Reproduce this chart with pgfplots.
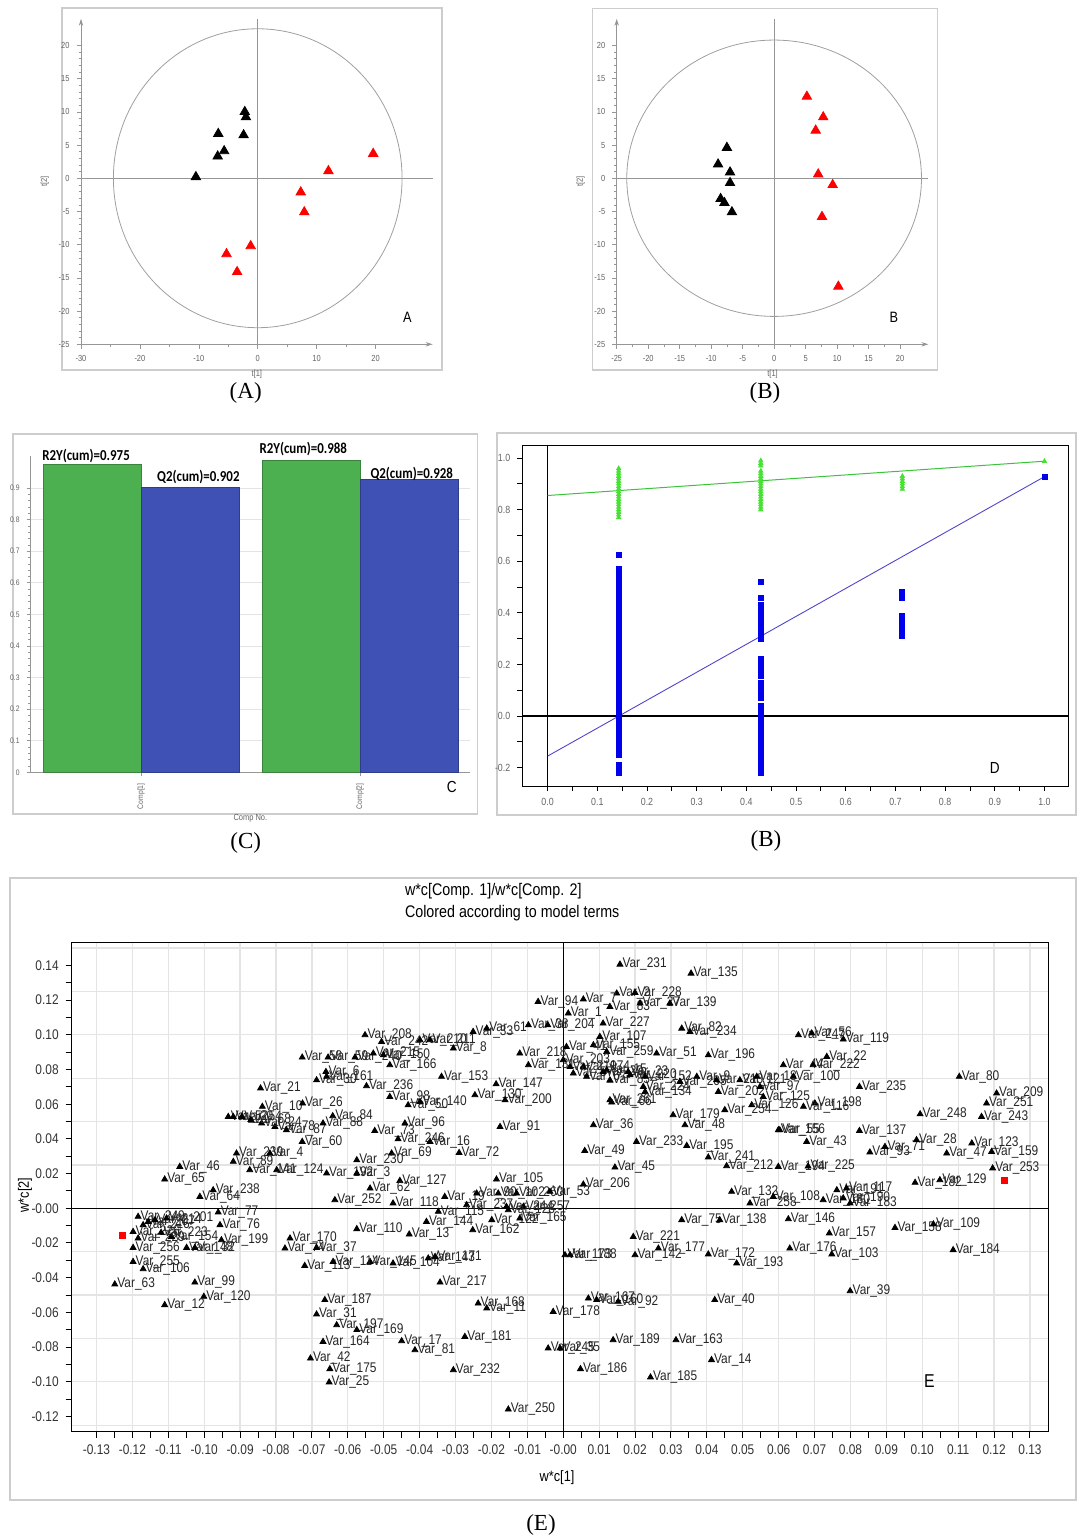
\documentclass[border=0pt]{standalone}
\usepackage{fontspec}
\setmainfont{Liberation Serif}
\newfontfamily\cf{Liberation Sans}[FakeStretch=0.85]
\newfontfamily\cb{Carlito}[FakeStretch=0.85]
\usepackage{pgfplots}
\pgfplotsset{compat=1.18}
\usetikzlibrary{arrows.meta}
\definecolor{frameg}{RGB}{205,205,205}
\definecolor{axg}{RGB}{150,150,150}
\definecolor{txg}{RGB}{100,100,100}
\definecolor{cgreen}{RGB}{76,175,80}
\definecolor{cblue}{RGB}{63,81,181}
\definecolor{dgreen}{RGB}{70,225,50}
\definecolor{dgline}{RGB}{60,195,60}
\definecolor{dblue}{RGB}{0,0,235}
\definecolor{dbline}{RGB}{80,70,200}
\definecolor{gridg}{RGB}{228,228,228}
\pgfplotsset{/pgf/number format/assume math mode=true}
\begin{document}
\begin{tikzpicture}
\path[use as bounding box] (0,0) rectangle (539.5pt,-769pt);
% panel frames
\draw[frameg, line width=0.8pt] (30.85pt,-3.85pt) rectangle (220.85pt,-185pt);
\draw[frameg, line width=0.8pt] (296.15pt,-4.15pt) rectangle (468.65pt,-185pt);
\draw[frameg, line width=0.8pt] (6.35pt,-217pt) rectangle (238.65pt,-407pt);
\draw[frameg, line width=0.8pt] (248.5pt,-216.5pt) rectangle (538pt,-407.5pt);
\draw[frameg, line width=0.8pt] (5pt,-439pt) rectangle (538pt,-750pt);
% captions
\node[font=\fontsize{11.5}{13}\selectfont] at (122.85pt,-196.5pt) {(A)};
\node[font=\fontsize{11.5}{13}\selectfont] at (382.5pt,-196.5pt) {(B)};
\node[font=\fontsize{11.5}{13}\selectfont] at (122.85pt,-421.5pt) {(C)};
\node[font=\fontsize{11.5}{13}\selectfont] at (383pt,-420.5pt) {(B)};
\node[font=\fontsize{11.5}{13}\selectfont] at (270.5pt,-762.5pt) {(E)};

%================ Panel A
\begin{axis}[
  at={(40.5pt,-9.4pt)}, anchor=north west, scale only axis,
  width=175.85pt, height=162.75pt,
  xmin=-30, xmax=29.7, ymin=-25, ymax=24,
  axis lines=left,
  axis line style={axg, line width=0.4pt, -{Stealth[length=3.5pt,width=2.2pt]}},
  xtick={-30,-20,-10,0,10,20}, ytick={-25,-20,-15,-10,-5,0,5,10,15,20},
  minor x tick num=1, minor y tick num=4,
  tick style={axg, line width=0.3pt}, tick align=outside,
  major tick length=2.2pt, minor tick length=1.2pt,
  ticklabel style={font=\cf\fontsize{4.4}{5}\selectfont, text=txg},
  xlabel={t[1]}, ylabel={t[2]},
  label style={font=\cf\fontsize{4.4}{5}\selectfont, text=txg},
  xlabel style={yshift=3pt}, ylabel style={yshift=-2pt},
  clip=false,
]
\addplot[axg, line width=0.4pt] coordinates {(-30,0) (29.7,0)};
\addplot[axg, line width=0.4pt] coordinates {(0,-25) (0,24)};
\draw[gray!75, line width=0.4pt] (axis cs:0,0) ellipse [x radius=24.5, y radius=22.5];
\addplot[only marks, mark=triangle*, mark size=2.7pt, black] coordinates {
(-10.5,0.2) (-6.7,6.7) (-5.7,4.1) (-6.8,3.3) (-2.4,6.5) (-2.2,10.0) (-2.0,9.2)};
\addplot[only marks, mark=triangle*, mark size=2.7pt, red] coordinates {
(19.6,3.7) (12.0,1.1) (7.3,-2.1) (7.9,-5.1) (-1.2,-10.2) (-5.3,-11.4) (-3.5,-14.1)};
\node[font=\cf\fontsize{7.5}{8}\selectfont] at (axis cs:25.4,-20.9) {A};
\end{axis}

%================ Panel B
\begin{axis}[
  at={(308.35pt,-9.4pt)}, anchor=north west, scale only axis,
  width=155.85pt, height=162.75pt,
  xmin=-25, xmax=24.5, ymin=-25, ymax=24,
  axis lines=left,
  axis line style={axg, line width=0.4pt, -{Stealth[length=3.5pt,width=2.2pt]}},
  xtick={-25,-20,-15,-10,-5,0,5,10,15,20}, ytick={-25,-20,-15,-10,-5,0,5,10,15,20},
  minor x tick num=1, minor y tick num=4,
  tick style={axg, line width=0.3pt}, tick align=outside,
  major tick length=2.2pt, minor tick length=1.2pt,
  ticklabel style={font=\cf\fontsize{4.4}{5}\selectfont, text=txg},
  xlabel={t[1]}, ylabel={t[2]},
  label style={font=\cf\fontsize{4.4}{5}\selectfont, text=txg},
  xlabel style={yshift=3pt}, ylabel style={yshift=-2pt},
  clip=false,
]
\addplot[axg, line width=0.4pt] coordinates {(-25,0) (24.5,0)};
\addplot[axg, line width=0.4pt] coordinates {(0,-25) (0,24)};
\draw[gray!75, line width=0.4pt] (axis cs:0,0) ellipse [x radius=23.4, y radius=20.8];
\addplot[only marks, mark=triangle*, mark size=2.7pt, black] coordinates {
(-7.5,4.6) (-8.9,2.1) (-7.0,0.9) (-7.0,-0.7) (-8.5,-3.1) (-7.9,-3.7) (-6.7,-5.1)};
\addplot[only marks, mark=triangle*, mark size=2.7pt, red] coordinates {
(5.2,12.3) (7.8,9.2) (6.6,7.2) (7.0,0.6) (9.3,-1.0) (7.6,-5.8) (10.2,-16.3)};
\node[font=\cf\fontsize{7.5}{8}\selectfont] at (axis cs:19.0,-21.0) {B};
\end{axis}

%================ Panel C
\begin{axis}[
  at={(15.35pt,-228.2pt)}, anchor=north west, scale only axis,
  width=219.65pt, height=157.95pt,
  xmin=0.496, xmax=2.502, ymin=0, ymax=1,
  axis x line=bottom, axis y line=left,
  axis line style={axg, line width=0.4pt, -},
  ytick={0,0.1,0.2,0.3,0.4,0.5,0.6,0.7,0.8,0.9},
  yticklabels={0,0.1,0.2,0.3,0.4,0.5,0.6,0.7,0.8,0.9},
  minor y tick num=4,
  xtick={1,2}, xticklabels={Comp[1],Comp[2]},
  xticklabel style={rotate=90, anchor=east},
  ymajorgrids, grid style={gridg, line width=0.4pt},
  tick style={axg, line width=0.3pt}, tick align=outside,
  major tick length=2pt, minor tick length=1.2pt,
  ticklabel style={font=\cf\fontsize{4}{5}\selectfont, text=txg},
  xlabel={Comp No.},
  xlabel style={font=\cf\fontsize{4.4}{5}\selectfont, text=txg, yshift=4pt},
  clip=false,
]
\addplot[ybar, bar width=0.4475, bar shift=0pt, fill=cgreen, draw=cgreen!75!black, line width=0.3pt]
  coordinates {(0.776,0.975) (1.776,0.988)};
\addplot[ybar, bar width=0.4475, bar shift=0pt, fill=cblue, draw=cblue!75!black, line width=0.3pt]
  coordinates {(1.224,0.902) (2.224,0.928)};
\node[anchor=base west, inner sep=0pt, font=\cb\bfseries\fontsize{7.6}{8}\selectfont] at (axis cs:0.547,0.9855) {R2Y(cum)=0.975};
\node[anchor=base west, inner sep=0pt, font=\cb\bfseries\fontsize{7.6}{8}\selectfont] at (axis cs:1.0717,0.9205) {Q2(cum)=0.902};
\node[anchor=base west, inner sep=0pt, font=\cb\bfseries\fontsize{7.6}{8}\selectfont] at (axis cs:1.539,1.0108) {R2Y(cum)=0.988};
\node[anchor=base west, inner sep=0pt, font=\cb\bfseries\fontsize{7.6}{8}\selectfont] at (axis cs:2.046,0.9316) {Q2(cum)=0.928};
\node[font=\cf\fontsize{8}{9}\selectfont] at (axis cs:2.419,-0.047) {C};
\end{axis}

%================ Panel D (labelled (B))
\begin{axis}[
  at={(261.15pt,-222.85pt)}, anchor=north west, scale only axis,
  width=273.25pt, height=170.15pt,
  xmin=-0.051, xmax=1.049, ymin=-0.271, ymax=1.048,
  axis line style={black, line width=0.4pt},
  xtick={0,0.1,0.2,0.3,0.4,0.5,0.6,0.7,0.8,0.9,1},
  xticklabels={0.0,0.1,0.2,0.3,0.4,0.5,0.6,0.7,0.8,0.9,1.0},
  ytick={-0.2,0,0.2,0.4,0.6,0.8,1},
  yticklabels={-0.2,0.0,0.2,0.4,0.6,0.8,1.0},
  minor x tick num=1, minor y tick num=1,
  xtick pos=left, ytick pos=left, tick align=outside,
  tick style={black, line width=0.4pt},
  major tick length=2.5pt, minor tick length=2.5pt,
  ticklabel style={font=\cf\fontsize{5.2}{6}\selectfont, text=txg},
  clip=false,
]
\addplot[black, line width=0.7pt] coordinates {(0,-0.271) (0,1.048)};
\addplot[black, line width=0.7pt] coordinates {(-0.051,0) (1.049,0)};
\addplot[dgline, line width=0.5pt] coordinates {(0,0.855) (1,0.988)};
\addplot[dbline, line width=0.45pt] coordinates {(0,-0.155) (1,0.928)};
\addplot[only marks, mark=triangle*, mark size=1.2pt, dgreen] coordinates {
(0.143,0.77) (0.143,0.78) (0.143,0.79) (0.143,0.80) (0.143,0.81) (0.143,0.82) (0.143,0.83)
(0.143,0.84) (0.143,0.85) (0.143,0.86) (0.143,0.87) (0.143,0.88) (0.143,0.89) (0.143,0.90)
(0.143,0.91) (0.143,0.92) (0.143,0.93) (0.143,0.94) (0.143,0.95) (0.143,0.96)
(0.429,0.80) (0.429,0.81) (0.429,0.82) (0.429,0.83) (0.429,0.84) (0.429,0.85) (0.429,0.86)
(0.429,0.87) (0.429,0.88) (0.429,0.89) (0.429,0.90) (0.429,0.91) (0.429,0.92) (0.429,0.93)
(0.429,0.94) (0.429,0.95) (0.429,0.97) (0.429,0.98) (0.429,0.99)
(0.714,0.88) (0.714,0.89) (0.714,0.90) (0.714,0.91) (0.714,0.92) (0.714,0.93)
(1,0.988)};
\addplot[only marks, mark=square*, mark size=1.25pt, dblue] coordinates {
(0.143,-0.22) (0.143,-0.20) (0.143,-0.19) (0.143,-0.15) (0.143,-0.13) (0.143,-0.11) (0.143,-0.09)
(0.143,-0.07) (0.143,-0.05) (0.143,-0.03) (0.143,-0.01) (0.143,0.01) (0.143,0.03) (0.143,0.05)
(0.143,0.07) (0.143,0.09) (0.143,0.11) (0.143,0.13) (0.143,0.15) (0.143,0.17) (0.143,0.19)
(0.143,0.21) (0.143,0.23) (0.143,0.25) (0.143,0.27) (0.143,0.29) (0.143,0.31) (0.143,0.33)
(0.143,0.35) (0.143,0.37) (0.143,0.39) (0.143,0.41) (0.143,0.43) (0.143,0.45) (0.143,0.47)
(0.143,0.49) (0.143,0.51) (0.143,0.53) (0.143,0.55) (0.143,0.57) (0.143,0.625)
(0.429,0.52) (0.429,0.46) (0.429,0.43) (0.429,0.41) (0.429,0.39) (0.429,0.37) (0.429,0.35)
(0.429,0.33) (0.429,0.31) (0.429,0.30) (0.429,0.22) (0.429,0.20) (0.429,0.18) (0.429,0.155)
(0.429,0.13) (0.429,0.11) (0.429,0.095) (0.429,0.07) (0.429,0.04) (0.429,0.02) (0.429,0.00)
(0.429,-0.02) (0.429,-0.04) (0.429,-0.06) (0.429,-0.08) (0.429,-0.10) (0.429,-0.12)
(0.429,-0.14) (0.429,-0.16) (0.429,-0.18) (0.429,-0.20) (0.429,-0.22)
(0.714,0.48) (0.714,0.46) (0.714,0.39) (0.714,0.37) (0.714,0.35) (0.714,0.33) (0.714,0.31)
(1,0.928)};
\node[font=\cf\fontsize{8}{9}\selectfont] at (axis cs:0.9,-0.2) {D};
\end{axis}

%================ Panel E
\begin{axis}[
  at={(35.85pt,-471.35pt)}, anchor=north west, scale only axis,
  width=488.3pt, height=244.5pt,
  xmin=-0.1369, xmax=0.1351, ymin=-0.1288, ymax=0.1531,
  axis line style={black, line width=0.7pt},
  xtick={-0.13,-0.12,-0.11,-0.10,-0.09,-0.08,-0.07,-0.06,-0.05,-0.04,-0.03,-0.02,-0.01,0,0.01,0.02,0.03,0.04,0.05,0.06,0.07,0.08,0.09,0.10,0.11,0.12,0.13},
  xticklabels={-0.13,-0.12,-0.11,-0.10,-0.09,-0.08,-0.07,-0.06,-0.05,-0.04,-0.03,-0.02,-0.01,-0.00,0.01,0.02,0.03,0.04,0.05,0.06,0.07,0.08,0.09,0.10,0.11,0.12,0.13},
  ytick={-0.12,-0.10,-0.08,-0.06,-0.04,-0.02,0,0.02,0.04,0.06,0.08,0.10,0.12,0.14},
  yticklabels={-0.12,-0.10,-0.08,-0.06,-0.04,-0.02,-0.00,0.02,0.04,0.06,0.08,0.10,0.12,0.14},
  minor x tick num=1, minor y tick num=1,
  xmajorgrids, grid style={gridg, line width=0.6pt},
  extra y ticks={-0.125,-0.1,-0.075,-0.05,-0.025,0,0.025,0.05,0.075,0.1,0.125,0.15},
  extra y tick labels={},
  extra y tick style={grid=major, major tick length=0pt},
  xtick pos=left, ytick pos=left, tick align=outside,
  tick style={black, line width=0.5pt},
  major tick length=3pt, minor tick length=3pt,
  ticklabel style={font=\cf\fontsize{7}{8}\selectfont, text=black!80},
  xlabel={w*c[1]}, ylabel={w*c[2]},
  xlabel style={at={(axis description cs:0.497,-0.0947)}, anchor=center, font=\cf\fontsize{7.5}{8}\selectfont},
  ylabel style={at={(axis description cs:-0.0478,0.484)}, anchor=center, font=\cf\fontsize{7.5}{8}\selectfont},
  title={w*c[Comp. 1]/w*c[Comp. 2]\\Colored according to model terms},
  title style={at={(axis description cs:0.3341,1.0587)}, anchor=west, align=left, font=\cf\fontsize{8.4}{11}\selectfont},
  clip=false,
]
\addplot[black, line width=0.7pt] coordinates {(0,-0.1288) (0,0.1531)};
\addplot[black, line width=0.7pt] coordinates {(-0.1369,0) (0.1351,0)};
\addplot[only marks, mark=triangle*, mark size=1.7pt, black,
  nodes near coords={Var\_\pgfplotspointmeta},
  point meta=explicit symbolic,
  nodes near coords style={anchor=west, xshift=0.6pt, inner sep=0.5pt, font=\cf\fontsize{7}{7}\selectfont, text=black!85}]
table[meta=n] {
x y n
-0.0843 0.0692 21
-0.0727 0.0870 58
-0.0838 0.0586 10
-0.0726 0.0605 26
-0.0687 0.0739 30
-0.0661 0.0787 6
-0.0933 0.0528 52
-0.0919 0.0528 20
-0.0840 0.0490 24
-0.0803 0.0470 78
-0.0771 0.0451 87
-0.0727 0.0384 60
-0.0910 0.0317 239
-0.0817 0.0317 4
-0.0919 0.0269 89
-0.0873 0.0221 141
-0.0798 0.0221 124
-0.1068 0.0240 46
-0.1110 0.0167 65
-0.0975 0.0105 238
-0.1012 0.0067 64
-0.0659 0.0202 192
-0.0575 0.0202 3
-0.0895 0.0528 54
-0.0870 0.0510 68
-0.0552 0.0999 208
-0.0506 0.0960 242
-0.0399 0.0970 210
-0.0371 0.0970 211
-0.0306 0.0922 8
-0.0251 0.1018 33
-0.0213 0.1037 61
-0.0097 0.1056 38
-0.0070 0.1191 94
-0.0655 0.0870 59
-0.0580 0.0870 240
-0.0529 0.0893 215
-0.0501 0.0883 150
-0.0483 0.0826 166
-0.0659 0.0759 161
-0.0548 0.0705 236
-0.0483 0.0643 98
-0.0432 0.0595 50
-0.0399 0.0614 140
-0.0339 0.0759 153
-0.0246 0.0653 130
-0.0187 0.0716 147
-0.0162 0.0624 200
-0.0121 0.0893 218
-0.0097 0.0826 131
-0.0642 0.0532 84
-0.0669 0.0490 88
-0.0176 0.0470 91
-0.0525 0.0447 73
-0.0441 0.0490 96
-0.0460 0.0399 246
-0.0371 0.0384 16
-0.0290 0.0320 72
-0.0478 0.0317 69
-0.0575 0.0278 230
-0.0455 0.0159 127
-0.0538 0.0115 62
-0.0186 0.0167 105
-0.0636 0.0048 252
-0.0474 0.0029 118
-0.0330 0.0067 19
-0.0241 0.0086 90
-0.0181 0.0086 102
-0.0130 0.0086 260
-0.0037 0.0096 53
-0.0269 0.0019 237
-0.0158 0.0009 244
-0.0111 0.0009 257
0.0158 0.1406 231
0.0356 0.1354 135
0.0149 0.1239 2
0.0200 0.1243 228
0.0056 0.1205 7
0.0130 0.1162 83
0.0214 0.1182 27
0.0297 0.1182 139
0.0014 0.1124 1
-0.0043 0.1056 204
0.0111 0.1066 227
0.0102 0.0989 107
0.0084 0.0941 155
0.0009 0.0931 41
0.0121 0.0903 259
0.0260 0.0893 51
0.0404 0.0883 196
0.0330 0.1037 82
0.0353 0.1018 234
0.0000 0.0855 203
0.0019 0.0816 219
0.0056 0.0816 174
0.0028 0.0778 57
0.0065 0.0759 67
0.0111 0.0787 29
0.0121 0.0797 15
0.0181 0.0787 23
0.0130 0.0739 85
0.0186 0.0768 220
0.0228 0.0759 152
0.0223 0.0701 224
0.0228 0.0672 134
0.0325 0.0730 205
0.0372 0.0759 9
0.0427 0.0739 213
0.0492 0.0739 121
0.0539 0.0759 18
0.0432 0.0672 202
0.0548 0.0701 97
0.0557 0.0643 125
0.0525 0.0595 126
0.0450 0.0567 254
0.0130 0.0624 261
0.0135 0.0611 66
0.0306 0.0538 179
0.0339 0.0480 48
0.0084 0.0480 36
0.0060 0.0332 49
0.0204 0.0384 233
0.0344 0.0361 195
0.0144 0.0236 45
0.0056 0.0138 206
0.0404 0.0294 241
0.0455 0.0244 212
0.0599 0.0240 194
0.0682 0.0242 225
0.0469 0.0096 132
0.0520 0.0029 258
0.0585 0.0067 108
0.0599 0.0451 156
0.0603 0.0451 55
0.0678 0.0384 43
0.0655 0.0999 247
0.0692 0.1009 56
0.0780 0.0974 119
0.0613 0.0826 44
0.0696 0.0826 222
0.0734 0.0874 22
0.0641 0.0759 100
0.0825 0.0701 235
0.0701 0.0605 198
0.0669 0.0586 116
0.0825 0.0447 137
0.0854 0.0323 93
0.0896 0.0355 71
0.0984 0.0394 28
0.0994 0.0543 248
0.1103 0.0759 80
0.1207 0.0663 209
0.1179 0.0605 251
0.1165 0.0528 243
0.1138 0.0375 123
0.1068 0.0317 47
0.1193 0.0326 159
0.1196 0.0231 253
0.1049 0.0163 129
0.0980 0.0148 182
0.0724 0.0048 180
0.0762 0.0105 191
0.0789 0.0115 117
0.0780 0.0058 190
0.0799 0.0029 183
-0.1184 -0.0048 249
-0.1170 -0.0096 216
-0.1156 -0.0077 207
-0.1137 -0.0067 214
-0.1105 -0.0058 201
-0.1198 -0.0135 226
-0.1184 -0.0173 229
-0.1091 -0.0164 154
-0.1198 -0.0227 256
-0.1049 -0.0227 148
-0.1026 -0.0227 32
-0.1198 -0.0308 255
-0.1170 -0.0350 106
-0.1249 -0.0438 63
-0.1026 -0.0427 99
-0.1001 -0.0509 120
-0.1110 -0.0557 12
-0.0961 -0.0023 77
-0.0956 -0.0096 76
-0.0952 -0.0183 199
-0.0761 -0.0173 170
-0.0775 -0.0231 74
-0.0687 -0.0227 37
-0.0720 -0.0331 113
-0.0664 -0.0528 187
-0.0687 -0.0611 31
-0.0669 -0.0769 164
-0.0704 -0.0865 42
-0.0650 -0.0926 175
-0.0652 -0.1003 25
-0.1120 -0.0140 223
-0.0575 -0.0119 110
-0.0429 -0.0150 13
-0.0381 -0.0077 144
-0.0348 -0.0019 115
-0.0252 -0.0125 162
-0.0199 -0.0067 122
-0.0153 -0.0010 128
-0.0121 -0.0058 165
-0.0538 -0.0308 145
-0.0641 -0.0308 114
-0.0474 -0.0317 104
-0.0376 -0.0288 143
-0.0357 -0.0279 171
-0.0343 -0.0427 217
-0.0237 -0.0548 168
-0.0213 -0.0576 11
-0.0631 -0.0673 197
-0.0575 -0.0701 169
-0.0450 -0.0765 17
-0.0413 -0.0817 81
-0.0274 -0.0740 181
-0.0306 -0.0932 232
-0.0153 -0.1159 250
0.0005 -0.0269 173
0.0019 -0.0269 188
-0.0028 -0.0596 178
-0.0042 -0.0807 245
-0.0009 -0.0807 35
0.0330 -0.0067 75
0.0436 -0.0067 138
0.0627 -0.0062 146
0.0195 -0.0164 221
0.0200 -0.0269 142
0.0265 -0.0231 177
0.0404 -0.0265 172
0.0483 -0.0317 193
0.0631 -0.0231 176
0.0748 -0.0265 103
0.0741 -0.0144 157
0.0924 -0.0112 158
0.1031 -0.0092 109
0.1086 -0.0240 184
0.0799 -0.0477 39
0.0422 -0.0528 40
0.0070 -0.0519 167
0.0093 -0.0528 160
0.0153 -0.0538 92
0.0139 -0.0759 189
0.0314 -0.0759 163
0.0413 -0.0874 14
0.0048 -0.0926 186
0.0243 -0.0974 185
};
\addplot[only marks, mark=square*, mark size=1.5pt, red] coordinates {(-0.1229,-0.0158) (0.1228,0.0163)};
\node[font=\cf\fontsize{9.3}{10}\selectfont] at (axis cs:0.1020,-0.0999) {E};
\end{axis}
\end{tikzpicture}
\end{document}
